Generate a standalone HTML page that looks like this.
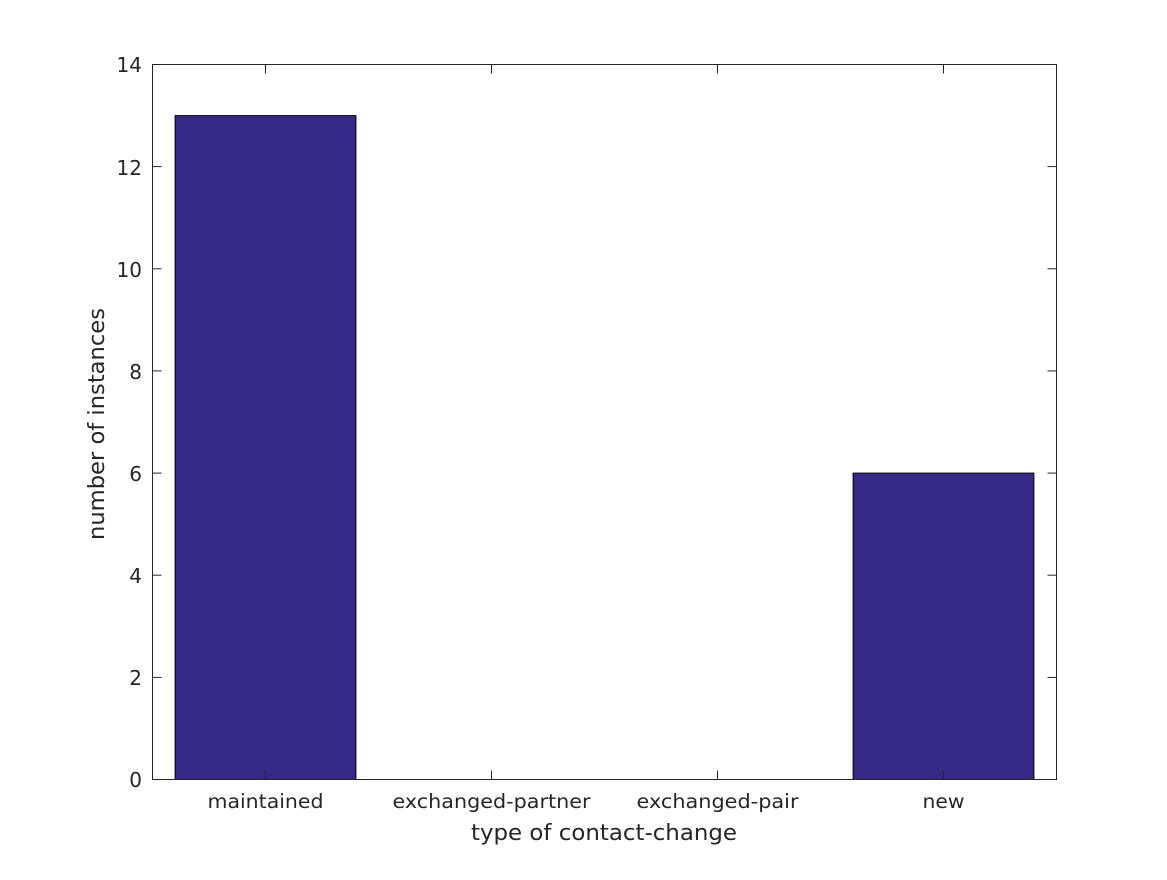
<!DOCTYPE html>
<html><head><meta charset="utf-8"><style>body{margin:0;background:#fff}</style></head>
<body>
<svg width="1167" height="875" xmlns="http://www.w3.org/2000/svg" font-family="'DejaVu Sans', sans-serif" fill="#262626">
<rect x="0" y="0" width="1167" height="875" fill="#fff"/>
<rect x="175.1" y="115.6" width="180.8" height="663.9" fill="#352a87" stroke="#000" stroke-width="1"/>
<rect x="853.1" y="473.1" width="180.8" height="306.4" fill="#352a87" stroke="#000" stroke-width="1"/>
<rect x="152.5" y="64.5" width="904" height="715" fill="none" stroke="#262626" stroke-width="1"/>
<g stroke="#262626" stroke-width="1">
<line x1="265.5" y1="779.5" x2="265.5" y2="770.5"/><line x1="265.5" y1="64.5" x2="265.5" y2="73.5"/>
<line x1="491.5" y1="779.5" x2="491.5" y2="770.5"/><line x1="491.5" y1="64.5" x2="491.5" y2="73.5"/>
<line x1="717.5" y1="779.5" x2="717.5" y2="770.5"/><line x1="717.5" y1="64.5" x2="717.5" y2="73.5"/>
<line x1="943.5" y1="779.5" x2="943.5" y2="770.5"/><line x1="943.5" y1="64.5" x2="943.5" y2="73.5"/>
<line x1="152.5" y1="677.4" x2="161.5" y2="677.4"/><line x1="1056.5" y1="677.4" x2="1047.5" y2="677.4"/>
<line x1="152.5" y1="575.2" x2="161.5" y2="575.2"/><line x1="1056.5" y1="575.2" x2="1047.5" y2="575.2"/>
<line x1="152.5" y1="473.1" x2="161.5" y2="473.1"/><line x1="1056.5" y1="473.1" x2="1047.5" y2="473.1"/>
<line x1="152.5" y1="370.9" x2="161.5" y2="370.9"/><line x1="1056.5" y1="370.9" x2="1047.5" y2="370.9"/>
<line x1="152.5" y1="268.8" x2="161.5" y2="268.8"/><line x1="1056.5" y1="268.8" x2="1047.5" y2="268.8"/>
<line x1="152.5" y1="166.6" x2="161.5" y2="166.6"/><line x1="1056.5" y1="166.6" x2="1047.5" y2="166.6"/>
</g>
<g font-size="20" text-anchor="end">
<text x="142" y="787">0</text><text x="142" y="685">2</text><text x="142" y="583">4</text>
<text x="142" y="481">6</text><text x="142" y="379">8</text><text x="142" y="277">10</text>
<text x="142" y="175">12</text><text x="142" y="72">14</text>
</g>
<g font-size="19.5" text-anchor="middle">
<text x="265.5" y="808" textLength="116" lengthAdjust="spacingAndGlyphs">maintained</text>
<text x="491.5" y="808" textLength="198" lengthAdjust="spacingAndGlyphs">exchanged-partner</text>
<text x="717.5" y="808" textLength="162" lengthAdjust="spacingAndGlyphs">exchanged-pair</text>
<text x="943.5" y="808" textLength="42" lengthAdjust="spacingAndGlyphs">new</text>
<text x="604" y="840" font-size="22" textLength="266" lengthAdjust="spacingAndGlyphs">type of contact-change</text>
<text transform="translate(104,424) rotate(-90)" font-size="22" textLength="232" lengthAdjust="spacingAndGlyphs">number of instances</text>
</g>
</svg>
</body></html>
